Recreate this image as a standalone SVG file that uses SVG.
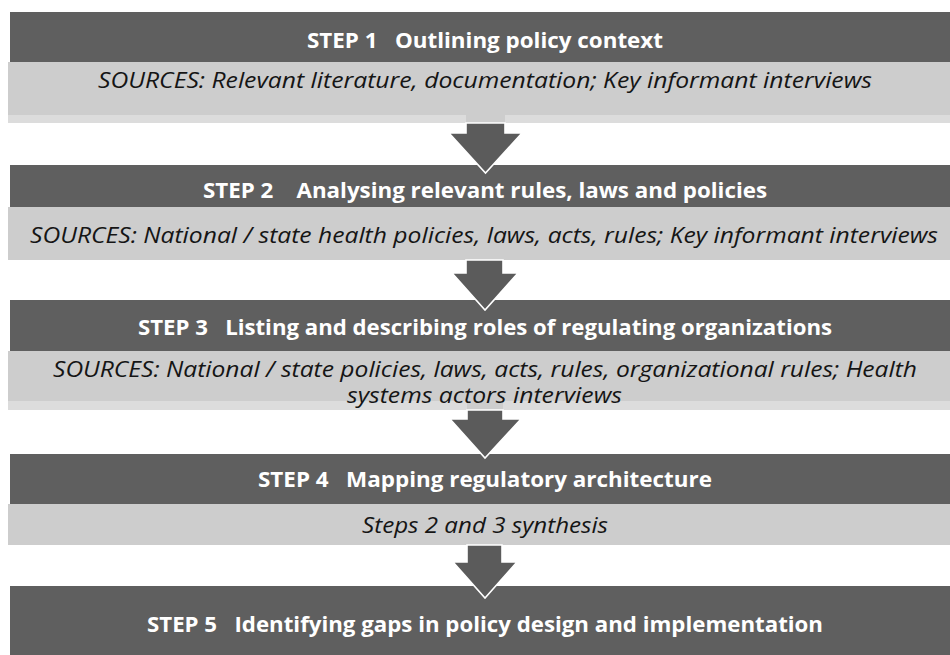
<svg xmlns="http://www.w3.org/2000/svg" width="950" height="655" viewBox="0 0 950 655">
  <style>
    .bar { fill: #5f5f5f; }
    .src { fill: #cdcdcd; }
    .strip { fill: #dcdcdc; }
    .head { font-family: "Open Sans", "Liberation Sans", sans-serif; font-weight: bold; font-size: 21px; fill: #ffffff; }
    .note { font-family: "Open Sans", "Liberation Sans", sans-serif; font-style: italic; font-size: 21px; fill: #151515; }
    .arrow { fill: #5b5b5b; stroke: #ffffff; stroke-width: 1.6; stroke-linejoin: miter; }
  </style>
  <rect width="950" height="655" fill="#ffffff"/>

  <!-- Step 1 -->
  <g id="step1">
    <rect class="bar" x="10" y="12" width="950" height="50"/>
    <rect class="src" x="8" y="62" width="952" height="61"/>
    <rect class="strip" x="8" y="115" width="458" height="8"/>
    <rect class="strip" x="505" y="115" width="455" height="8"/>
    <text class="head" x="307" y="48" textLength="356" lengthAdjust="spacingAndGlyphs" xml:space="preserve">STEP 1   Outlining policy context</text>
    <text class="note" x="98" y="88" textLength="774" lengthAdjust="spacingAndGlyphs">SOURCES: Relevant literature, documentation; Key informant interviews</text>
  </g>

  <!-- Step 2 -->
  <g id="step2">
    <rect class="bar" x="10" y="165" width="950" height="42"/>
    <rect class="src" x="8" y="207" width="952" height="53"/>
    <text class="head" x="203" y="198" textLength="564" lengthAdjust="spacingAndGlyphs" xml:space="preserve">STEP 2    Analysing relevant rules, laws and policies</text>
    <text class="note" x="30" y="243" textLength="908" lengthAdjust="spacingAndGlyphs">SOURCES: National / state health policies, laws, acts, rules; Key informant interviews</text>
  </g>

  <!-- Step 3 -->
  <g id="step3">
    <rect class="bar" x="10" y="300" width="950" height="51"/>
    <rect class="src" x="8" y="351" width="952" height="59"/>
    <rect class="strip" x="8" y="401" width="459" height="9"/>
    <rect class="strip" x="503" y="401" width="457" height="9"/>
    <text class="head" x="138" y="335" textLength="694" lengthAdjust="spacingAndGlyphs" xml:space="preserve">STEP 3   Listing and describing roles of regulating organizations</text>
    <text class="note" x="53" y="377" textLength="864" lengthAdjust="spacingAndGlyphs">SOURCES: National / state policies, laws, acts, rules, organizational rules; Health</text>
    <text class="note" x="347" y="403" textLength="275" lengthAdjust="spacingAndGlyphs">systems actors interviews</text>
  </g>

  <!-- Step 4 -->
  <g id="step4">
    <rect class="bar" x="10" y="454" width="950" height="50"/>
    <rect class="src" x="8" y="504" width="952" height="41"/>
    <text class="head" x="258" y="487" textLength="454" lengthAdjust="spacingAndGlyphs" xml:space="preserve">STEP 4   Mapping regulatory architecture</text>
    <text class="note" x="362" y="533" textLength="246" lengthAdjust="spacingAndGlyphs">Steps 2 and 3 synthesis</text>
  </g>

  <!-- Step 5 -->
  <g id="step5">
    <rect class="bar" x="10" y="586" width="950" height="69"/>
    <text class="head" x="147" y="632" textLength="676" lengthAdjust="spacingAndGlyphs" xml:space="preserve">STEP 5   Identifying gaps in policy design and implementation</text>
  </g>

  <!-- Block arrows between the steps -->
  <g id="connectors">
    <polygon class="arrow" points="466,123 505,123 505,133 522,133 485.5,173 449,133 466,133"/>
    <polygon class="arrow" points="466,260 503,260 503,273 518,273 485,310 452,273 466,273"/>
    <polygon class="arrow" points="467,410 503,410 503,419 521,419 485,458 450,419 467,419"/>
    <polygon class="arrow" points="467,545 502,545 502,562 517,562 485,598 453,562 467,562"/>
  </g>
</svg>
